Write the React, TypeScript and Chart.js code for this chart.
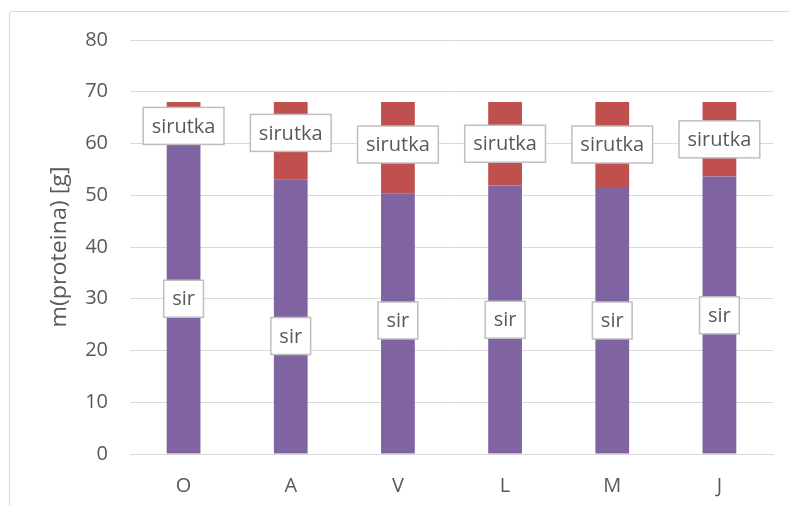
import React, { useEffect, useRef } from "react";
import { Chart, registerables } from "chart.js";

Chart.register(...registerables);

const categories = ["O", "A", "V", "L", "M", "J"];
const seriesNames = ["sir", "sirutka"];
const sirValues = [60, 53.1, 50.4, 51.9, 51.6, 53.6];
const sirutkaValues = [8, 14.9, 17.6, 16.1, 16.4, 14.4];
const yMin = 0;
const yMax = 80;
const yStep = 10;
const axisTitle = "m(proteina) [g]";
// manual label nudges (in axis units) as placed in the original
const sirLabelNudge = [0, -3.75, 0.6, 0, 0, 0];
const sirutkaLabelNudge = [-0.6, 1.5, 0.6, 0, 0, 0];

const FONT = "'Open Sans', 'Noto Sans', sans-serif";
const TEXT = "#595959";
const GRID = "#d9d9d9";

const labelPlugin = {
  id: "boxLabels",
  afterDatasetsDraw(chart: any) {
    const ctx = chart.ctx;
    const yScale = chart.scales.y;
    const nudges = [sirLabelNudge, sirutkaLabelNudge];
    ctx.save();
    ctx.font = `20px ${FONT}`;
    ctx.textAlign = "center";
    ctx.textBaseline = "middle";
    chart.data.datasets.forEach((ds: any, di: number) => {
      const meta = chart.getDatasetMeta(di);
      meta.data.forEach((bar: any, i: number) => {
        const start = di === 0 ? 0 : sirValues[i];
        const v = ds.data[i];
        const mid = start + v / 2 + nudges[di][i];
        const cy = yScale.getPixelForValue(mid);
        const cx = bar.x;
        const text = ds.label;
        const tw = ctx.measureText(text).width;
        const w = tw + 17;
        const h = 37;
        ctx.fillStyle = "#ffffff";
        ctx.fillRect(cx - w / 2, cy - h / 2, w, h);
        ctx.strokeStyle = "#bfbfbf";
        ctx.lineWidth = 1.5;
        ctx.strokeRect(cx - w / 2, cy - h / 2, w, h);
        ctx.fillStyle = TEXT;
        ctx.fillText(text, cx, cy + 1);
      });
    });
    ctx.restore();
  },
};

const titlePlugin = {
  id: "stretchedTitle",
  afterDraw(chart: any) {
    const ctx = chart.ctx;
    const area = chart.chartArea;
    ctx.save();
    ctx.translate(60, (area.top + area.bottom) / 2);
    ctx.rotate(-Math.PI / 2);
    ctx.font = `21px ${FONT}`;
    ctx.textAlign = "center";
    ctx.textBaseline = "middle";
    const w = ctx.measureText(axisTitle).width;
    ctx.scale(161 / w, 1);
    ctx.fillStyle = TEXT;
    ctx.fillText(axisTitle, 0, 0);
    ctx.restore();
  },
};

export default function App() {
  const ref = useRef<HTMLCanvasElement | null>(null);
  useEffect(() => {
    if (!ref.current) return;
    const chart = new Chart(ref.current, {
      type: "bar",
      data: {
        labels: categories,
        datasets: [
          {
            label: seriesNames[0],
            data: sirValues,
            backgroundColor: "#8064A2",
            categoryPercentage: 1,
            barPercentage: 0.315,
          },
          {
            label: seriesNames[1],
            data: sirutkaValues,
            backgroundColor: "#C0504D",
            categoryPercentage: 1,
            barPercentage: 0.315,
          },
        ],
      },
      options: {
        animation: false,
        responsive: false,
        devicePixelRatio: 1,
        layout: { padding: { left: 30, right: 16, top: 40, bottom: 0 } },
        plugins: { legend: { display: false }, tooltip: { enabled: false } },
        scales: {
          x: {
            stacked: true,
            grid: { display: false },
            border: { display: true, color: GRID, width: 1 },
            ticks: { color: TEXT, font: { family: FONT, size: 20 }, padding: 12 },
            afterFit: (s: any) => {
              s.height = 52;
            },
          },
          y: {
            stacked: true,
            min: yMin,
            max: yMax,
            ticks: {
              stepSize: yStep,
              color: TEXT,
              font: { family: FONT, size: 20 },
              padding: 22,
            },
            grid: { color: GRID, lineWidth: 1, drawTicks: false },
            border: { display: false },
            title: { display: false },
            afterFit: (s: any) => {
              s.width = 100;
            },
          },
        },
      },
      plugins: [labelPlugin, titlePlugin],
    });
    return () => chart.destroy();
  }, []);
  return (
    <div
      style={{
        position: "fixed",
        left: 0,
        top: 0,
        width: 789,
        height: 506,
        overflow: "hidden",
        background: "#ffffff",
      }}
    >
      <div
        style={{
          position: "absolute",
          left: 9,
          top: 11,
          width: 820,
          height: 540,
          border: `1px solid ${GRID}`,
          borderRadius: 3,
        }}
      />
      <canvas
        ref={ref}
        width={789}
        height={506}
        style={{ position: "absolute", left: 0, top: 0, width: 789, height: 506 }}
      />
    </div>
  );
}
